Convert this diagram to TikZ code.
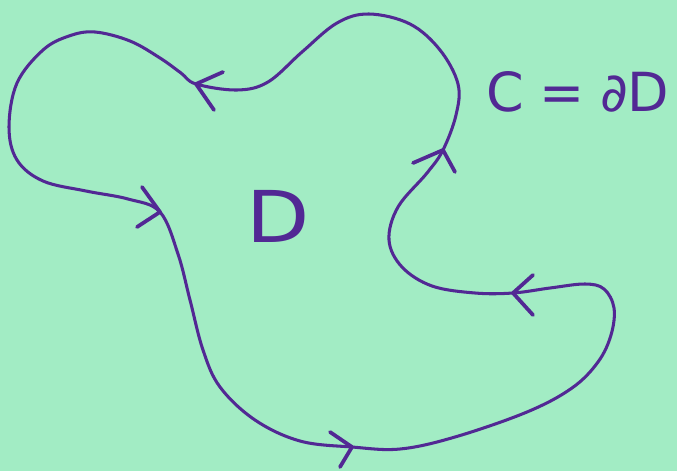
\documentclass[tikz,border=0pt]{standalone}
\usepackage{fontspec}
\newfontfamily\handfont{DejaVu Sans}
\definecolor{paper}{RGB}{162,236,196}
\definecolor{ink}{RGB}{82,40,148}

\begin{document}
\begin{tikzpicture}[
    x=0.03cm, y=-0.03cm,
    curve/.style={draw=ink, line width=2.6pt, line cap=round, line join=round},
    barb/.style={curve, line width=3.2pt},
    label/.style={text=ink, inner sep=0pt}
]
    % sheet
    \fill[paper] (0,0) rectangle (677,471);

    % boundary C of the region D
    \draw[curve] plot[smooth cycle, tension=0.6] coordinates {
        (196,84) (237,90) (268,82) (302,52) (337,23) (369,14) (410,24)
        (440,50) (458,84) (456,115) (443,150) (427,173) (398,207)
        (389,240) (402,267) (432,286) (475,293) (513,293) (550,288)
        (585,284) (604,289) (614,308) (611,335) (598,362) (572,388)
        (527,412) (455,437) (400,449) (352,447) (300,441) (255,420)
        (220,387) (203,350) (190,300) (178,254) (160,212) (128,199)
        (86,191) (43,181) (17,160) (9,127) (17,83) (43,50) (69,36)
        (95,32) (130,41) (160,58) (181,73)};

    % orientation marks
    \coordinate (top)   at (196,84);
    \coordinate (right) at (443,150);
    \coordinate (notch) at (513,293);
    \coordinate (low)   at (352,447);
    \coordinate (left)  at (160,212);

    \draw[barb] (223,72) -- (top) -- (214,110);
    \draw[barb] (413,163) -- (right) -- (455,172);
    \draw[barb] (533,275) -- (notch) -- (533,315);
    \draw[barb] (330,432) -- (low) -- (340,467);
    \draw[barb] (142,187) -- (left) -- (137,227);

    % labels
    \node[label, font=\handfont\fontsize{61}{61}\selectfont, xscale=1.15] (dom) at (278,216) {D};
    \node[label, font=\handfont\fontsize{46}{46}\selectfont, anchor=west] (bdry) at (486,92) {C\kern-0.03em{} = \kern-0.03em∂D};
\end{tikzpicture}
\end{document}
